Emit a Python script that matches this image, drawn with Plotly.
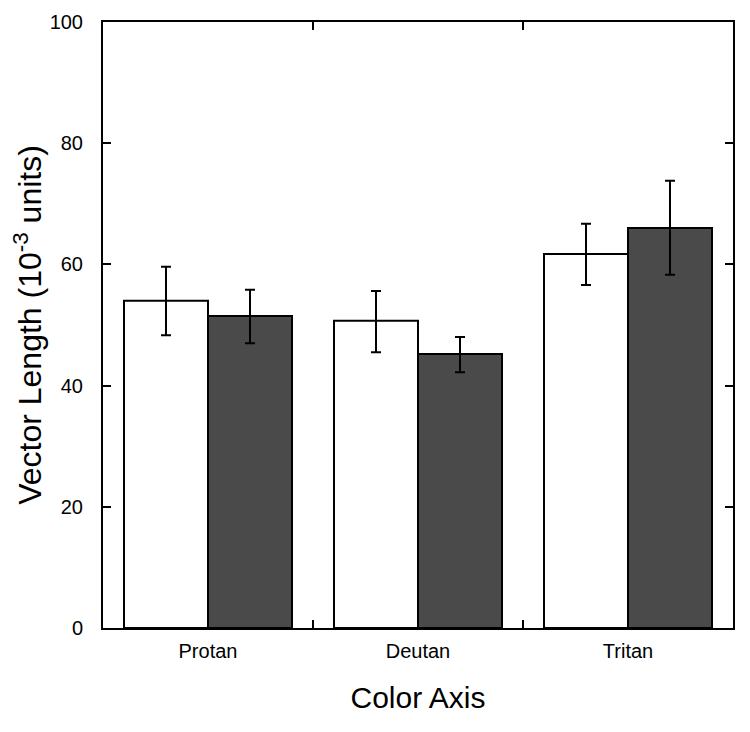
import plotly.graph_objects as go

categories = ["Protan", "Deutan", "Tritan"]
open_vals = [54.0, 50.7, 61.7]
open_err_plus = [5.6, 4.9, 5.0]
open_err_minus = [5.7, 5.2, 5.1]
filled_vals = [51.5, 45.2, 66.0]
filled_err_plus = [4.3, 2.8, 7.8]
filled_err_minus = [4.5, 3.0, 7.7]
y_ticks = [0, 20, 40, 60, 80, 100]

xpos = list(range(len(categories)))

fig = go.Figure()
fig.add_trace(go.Bar(
    x=xpos, y=open_vals, name="open",
    marker=dict(color="white", line=dict(color="black", width=2)),
    error_y=dict(type="data", symmetric=False, array=open_err_plus,
                 arrayminus=open_err_minus, color="black", thickness=2, width=5),
))
fig.add_trace(go.Bar(
    x=xpos, y=filled_vals, name="filled",
    marker=dict(color="#4a4a4a", line=dict(color="black", width=2)),
    error_y=dict(type="data", symmetric=False, array=filled_err_plus,
                 arrayminus=filled_err_minus, color="black", thickness=2, width=5),
))

fig.update_layout(
    width=742, height=724,
    margin=dict(l=95, r=17, t=14, b=104),
    paper_bgcolor="white", plot_bgcolor="white",
    barmode="group", bargap=0.2, bargroupgap=0,
    showlegend=False,
    font=dict(family="Liberation Sans, Arial, sans-serif", color="black"),
)
fig.update_xaxes(
    range=[-0.5, 2.5], automargin=False,
    tickvals=xpos, ticktext=categories,
    ticks="", tickfont=dict(size=20),
    showline=True, linecolor="black", linewidth=2, mirror="ticks",
    showgrid=False, zeroline=False,
    minor=dict(tickvals=[0.5, 1.5], ticks="inside", ticklen=8,
               tickwidth=2, tickcolor="black", showgrid=False),
    ticklabelstandoff=4,
    title=dict(text="Color Axis", font=dict(size=30), standoff=26),
)
fig.update_yaxes(
    range=[0, 100], automargin=False,
    tickvals=y_ticks,
    ticks="inside", ticklen=8, tickwidth=2, tickcolor="black",
    tickfont=dict(size=20),
    showline=True, linecolor="black", linewidth=2, mirror="ticks",
    showgrid=False, zeroline=False,
    ticklabelstandoff=14,
    title=dict(text="Vector Length (10<sup>-3</sup> units)", font=dict(size=32), standoff=0),
)

fig.write_html("out.html")
